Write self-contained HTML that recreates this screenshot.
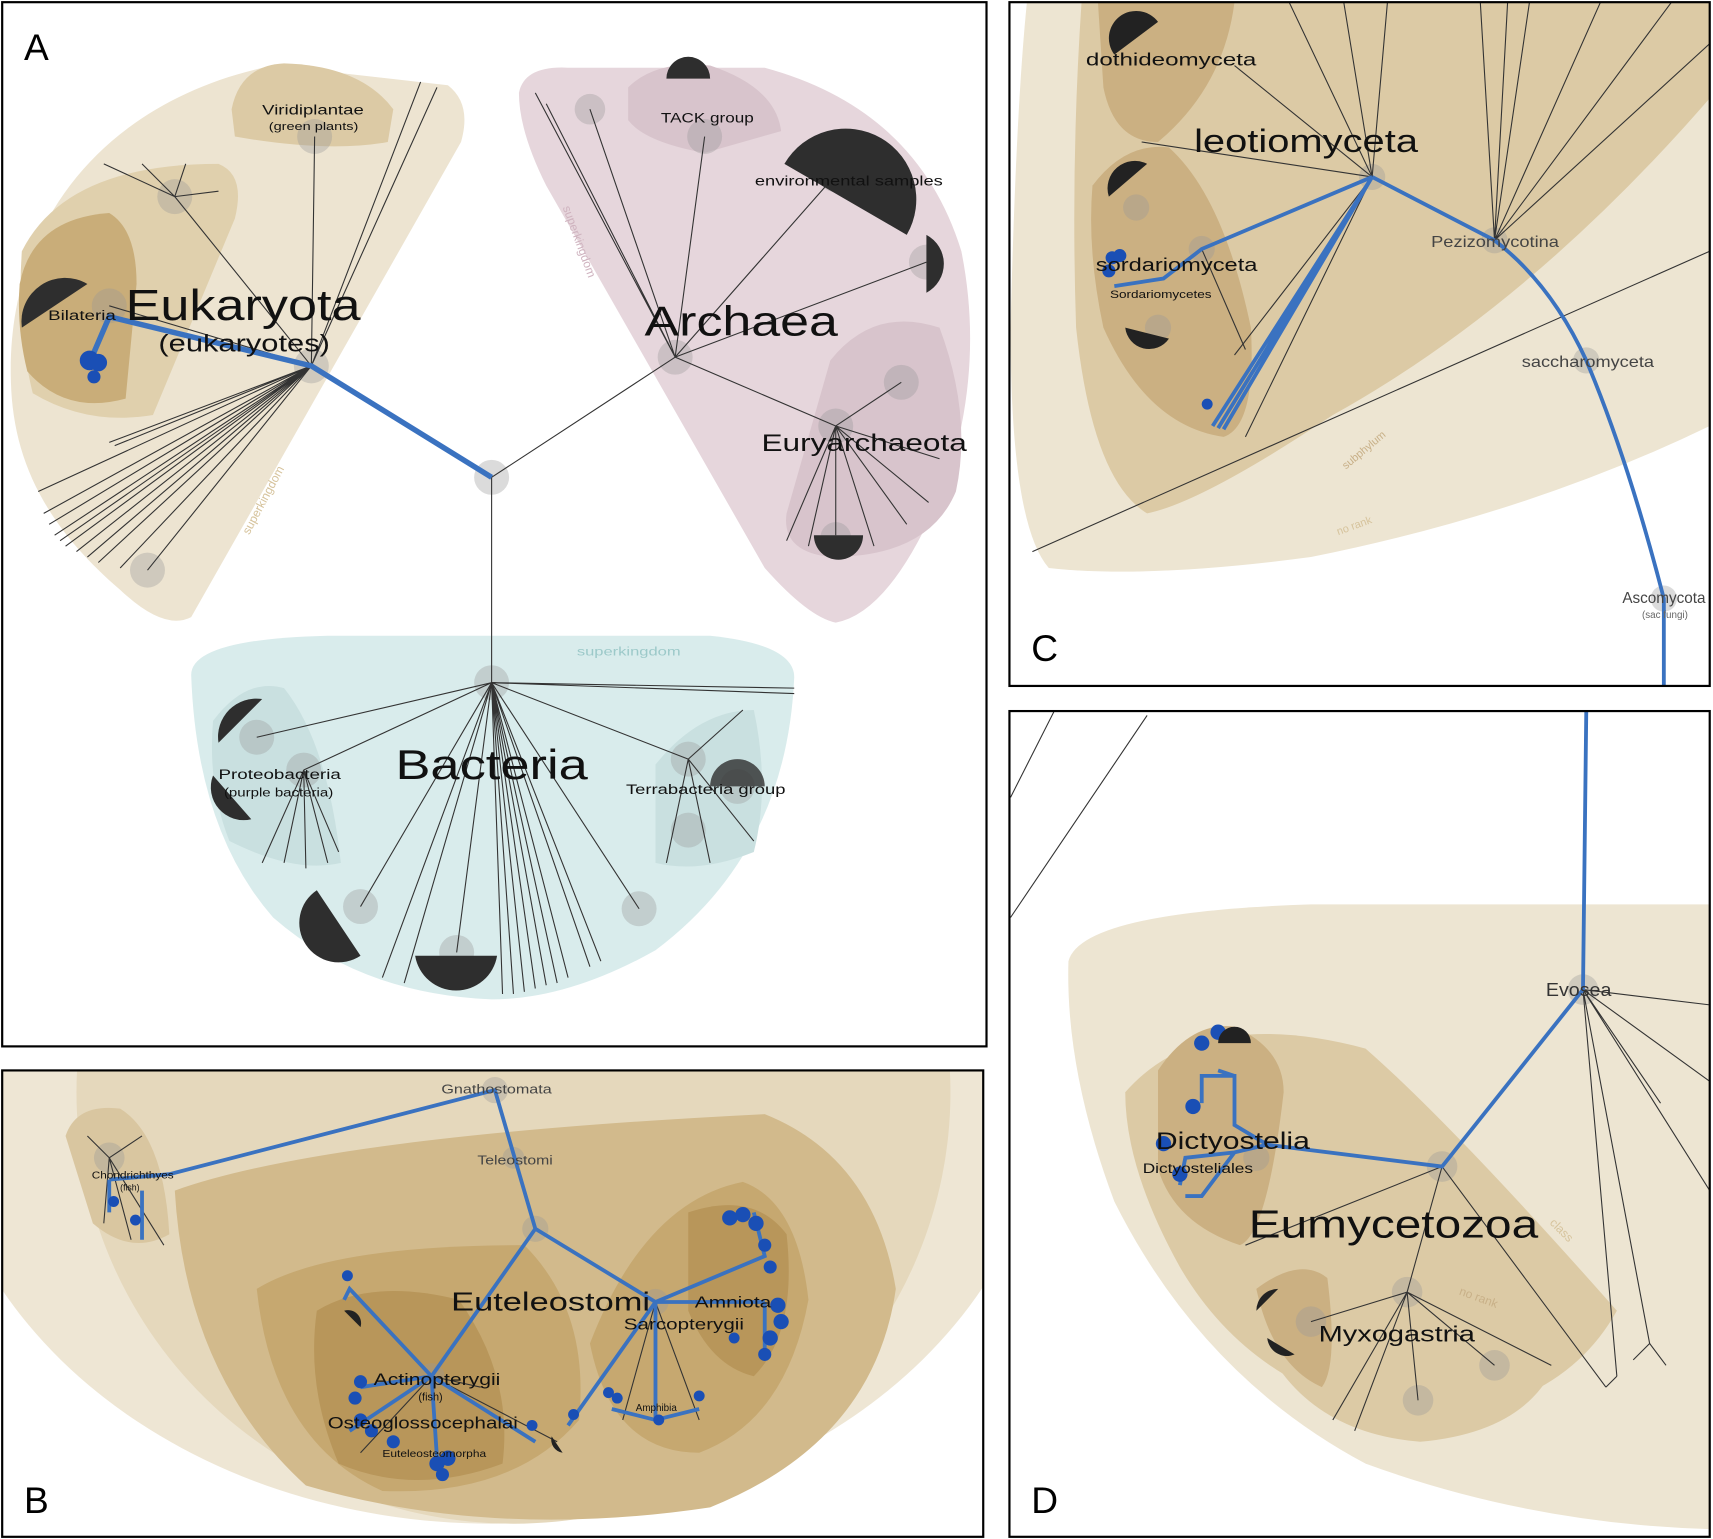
<!DOCTYPE html>
<html><head><meta charset="utf-8"><style>
html,body{margin:0;padding:0;background:#fff;}
svg{display:block;}
text{font-family:"Liberation Sans",sans-serif;}
</style></head><body>
<svg width="1713" height="1539" viewBox="0 0 1568 1409" preserveAspectRatio="none" xmlns="http://www.w3.org/2000/svg">
<defs>
<clipPath id="cA"><rect x="2" y="2" width="901" height="956"/></clipPath>
<clipPath id="cB"><rect x="2" y="980" width="898" height="427"/></clipPath>
<clipPath id="cC"><rect x="924" y="2" width="641" height="626"/></clipPath>
<clipPath id="cD"><rect x="924" y="651" width="641" height="756"/></clipPath>
</defs>
<rect width="1568" height="1409" fill="#fff"/>

<!-- PANEL A -->
<g clip-path="url(#cA)">
<path d="M10,350 C5,200 100,90 250,60 L410,78 Q432,95 422,130 L175,565 Q150,578 110,540 C40,480 12,420 10,350Z" fill="#ede4d1"/>
<path d="M20,230 Q60,150 200,150 Q225,160 215,200 L140,380 Q80,390 30,360 Q15,300 20,230Z" fill="#e0d0ad"/>
<path d="M18,260 Q30,200 100,195 Q125,210 125,260 L115,365 Q60,380 25,340 Q15,300 18,260Z" fill="#c9ad79"/>
<path d="M212,100 Q220,60 260,58 Q330,60 360,100 L355,130 Q300,140 215,125Z" fill="#dccaa5"/>
<path d="M475,85 Q480,60 520,62 L700,62 Q840,100 880,230 Q900,330 870,430 Q820,560 765,570 Q740,565 700,520 L500,170 Q475,120 475,85Z" fill="#e6d6dc"/>
<path d="M760,330 Q800,280 860,300 Q890,380 875,450 Q850,510 760,510 Q715,505 720,470 Z" fill="#d8c4cc"/>
<path d="M575,80 Q600,55 650,60 Q710,80 715,120 L645,140 Q590,130 575,110Z" fill="#d8c4cc"/>
<path d="M175,618 Q175,585 300,582 L650,582 Q727,590 727,620 Q720,780 600,870 Q520,915 450,915 Q330,910 250,840 Q180,760 175,618Z" fill="#d9ecec"/>
<path d="M195,660 Q225,620 260,630 Q300,680 312,790 Q270,800 210,770 Q190,720 195,660Z" fill="#c9e0e0"/>
<path d="M600,700 Q640,650 690,650 Q705,720 690,780 Q640,800 600,790Z" fill="#c9e0e0"/>
<g fill="#999" opacity="0.35">
<circle cx="450" cy="437" r="16"/><circle cx="285" cy="335" r="16"/><circle cx="618" cy="327" r="16"/><circle cx="450" cy="625" r="16"/>
<circle cx="160" cy="180" r="16"/><circle cx="288" cy="125" r="16"/><circle cx="100" cy="280" r="16"/><circle cx="135" cy="522" r="16"/>
<circle cx="765" cy="160" r="16"/><circle cx="848" cy="240" r="16"/><circle cx="645" cy="125" r="16"/><circle cx="765" cy="390" r="16"/><circle cx="825" cy="350" r="16"/><circle cx="540" cy="100" r="14"/>
<circle cx="235" cy="675" r="16"/><circle cx="278" cy="705" r="16"/><circle cx="630" cy="695" r="16"/><circle cx="675" cy="720" r="16"/><circle cx="630" cy="760" r="16"/>
<circle cx="330" cy="830" r="16"/><circle cx="418" cy="872" r="16"/><circle cx="585" cy="832" r="16"/><circle cx="765" cy="492" r="14"/>
</g>
<g stroke="#333" stroke-width="1" fill="none">
<path d="M450,437 L618,327 M450,437 L450,625"/>
<path d="M618,327 L765,160 M618,327 L848,240 M618,327 L645,125 M618,327 L490,85 M618,327 L500,95 M618,327 L765,390 M618,327 L540,100"/>
<path d="M765,390 L825,350 M765,390 L720,495 M765,390 L740,500 M765,390 L765,490 M765,390 L800,500 M765,390 L830,480 M765,390 L850,460 M765,390 L860,420"/>
<path d="M285,335 L288,125 M285,335 L160,180 M285,335 L100,280 M285,335 L385,75 M285,335 L400,80 M285,335 L100,405 M285,335 L105,408 M285,335 L135,522"/>
<path d="M285,335 L35,450 M285,335 L40,470 M285,335 L45,480 M285,335 L50,490 M285,335 L55,495 M285,335 L60,500 M285,335 L70,505 M285,335 L80,510 M285,335 L90,515 M285,335 L110,520"/>
<path d="M160,180 L95,150 M160,180 L200,175 M160,180 L130,150 M160,180 L170,150"/>
<path d="M450,625 L235,675 M450,625 L278,705 M450,625 L630,695 M450,625 L727,630 M450,625 L727,635 M450,625 L330,830 M450,625 L418,872 M450,625 L585,832"/>
<path d="M450,625 L350,895 M450,625 L370,900 M450,625 L460,910 M450,625 L470,910 M450,625 L480,908 M450,625 L490,905 M450,625 L500,902 M450,625 L510,900 M450,625 L520,895 M450,625 L540,885 M450,625 L550,880"/>
<path d="M278,705 L240,790 M278,705 L260,790 M278,705 L280,795 M278,705 L300,790 M278,705 L310,780 M630,695 L690,770 M630,695 L680,650 M630,695 L610,790 M630,695 L650,790"/>
</g>
<g fill="#2e2e2e">
<path d="M718,150 A60,60 0 0 1 830,215 Z"/>
<path d="M848,215 A30,30 0 0 1 848,268 Z"/>
<path d="M745,490 A22,22 0 0 0 790,490 Z"/>
<path d="M380,875 A38,38 0 0 0 455,875 Z"/>
<path d="M290,815 A35,35 0 0 0 330,875 Z"/>
<path d="M610,72 A18,18 0 0 1 650,72 Z"/>
<path d="M20,300 A40,40 0 0 1 80,260 Z"/>
<path d="M200,680 A35,35 0 0 1 240,640 Z"/>
<path d="M195,710 A30,30 0 0 0 230,750 Z"/>
<path d="M650,720 A25,25 0 0 1 700,720 Z" opacity="0.8"/>
</g>
<path d="M450,437 L285,335 L100,290 L85,325" stroke="#3a72c0" stroke-width="5" fill="none"/>
<g fill="#1a4fb5"><circle cx="82" cy="330" r="9"/><circle cx="90" cy="332" r="8"/><circle cx="86" cy="345" r="6"/></g>
<g fill="#111">
<text x="115" y="293" font-size="40" textLength="215" lengthAdjust="spacingAndGlyphs">Eukaryota</text>
<text x="145" y="322" font-size="22" textLength="157" lengthAdjust="spacingAndGlyphs">(eukaryotes)</text>
<text x="590" y="307" font-size="38" textLength="177" lengthAdjust="spacingAndGlyphs">Archaea</text>
<text x="362" y="713" font-size="38" textLength="176" lengthAdjust="spacingAndGlyphs">Bacteria</text>
<text x="697" y="413" font-size="22" textLength="188" lengthAdjust="spacingAndGlyphs">Euryarchaeota</text>
<text x="44" y="293" font-size="13" textLength="62" lengthAdjust="spacingAndGlyphs">Bilateria</text>
<text x="240" y="105" font-size="13" textLength="93" lengthAdjust="spacingAndGlyphs">Viridiplantae</text>
<text x="246" y="119" font-size="10" textLength="82" lengthAdjust="spacingAndGlyphs">(green plants)</text>
<text x="605" y="112" font-size="13" textLength="85" lengthAdjust="spacingAndGlyphs">TACK group</text>
<text x="691" y="170" font-size="13" textLength="172" lengthAdjust="spacingAndGlyphs">environmental samples</text>
<text x="200" y="713" font-size="13" textLength="112" lengthAdjust="spacingAndGlyphs">Proteobacteria</text>
<text x="205" y="729" font-size="11" textLength="100" lengthAdjust="spacingAndGlyphs">(purple bacteria)</text>
<text x="573" y="727" font-size="13" textLength="146" lengthAdjust="spacingAndGlyphs">Terrabacteria group</text>
</g>
<text x="528" y="600" font-size="11" fill="#9cc9c9" textLength="95" lengthAdjust="spacingAndGlyphs">superkingdom</text>
<text x="228" y="490" font-size="11" fill="#d6c39c" transform="rotate(-62 228 490)">superkingdom</text>
<text x="515" y="190" font-size="11" fill="#cfb3bf" transform="rotate(70 515 190)">superkingdom</text>
<text x="22" y="55" font-size="34" fill="#000">A</text>
</g>
<rect x="2" y="2" width="901" height="956" fill="none" stroke="#000" stroke-width="2"/>

<!-- PANEL B -->
<g clip-path="url(#cB)">
<ellipse cx="450" cy="985" rx="510" ry="410" fill="#eee6d4"/>
<ellipse cx="470" cy="1000" rx="400" ry="395" fill="#e5d8bc"/>
<path d="M60,1040 Q70,1010 110,1015 Q150,1040 155,1130 Q120,1150 85,1120Z" fill="#d9c6a0"/>
<path d="M160,1090 Q300,1040 700,1020 Q800,1060 820,1180 Q800,1320 650,1380 Q450,1410 280,1360 Q170,1260 160,1090Z" fill="#d2ba8c"/>
<path d="M235,1180 Q300,1140 480,1140 Q540,1200 530,1300 Q470,1370 350,1365 Q250,1320 235,1180Z" fill="#c6a870"/>
<path d="M290,1200 Q340,1170 420,1190 Q470,1260 460,1340 Q380,1370 310,1340 Q280,1270 290,1200Z" fill="#b8965a"/>
<path d="M540,1230 Q590,1100 680,1082 Q730,1100 740,1190 Q720,1300 640,1330 Q560,1330 540,1230Z" fill="#c6a870"/>
<path d="M630,1110 Q690,1090 720,1130 Q730,1220 690,1260 Q650,1250 630,1200Z" fill="#b8965a"/>
<g fill="#999" opacity="0.35"><circle cx="453" cy="998" r="12"/><circle cx="490" cy="1125" r="12"/><circle cx="600" cy="1192" r="12"/><circle cx="395" cy="1260" r="12"/><circle cx="100" cy="1060" r="14"/><circle cx="470" cy="1060" r="10"/></g>
<g stroke="#333" stroke-width="1" fill="none">
<path d="M100,1060 L80,1040 M100,1060 L130,1040 M100,1060 L95,1120 M100,1060 L150,1140 M100,1060 L120,1135"/>
<path d="M395,1260 L330,1330 M395,1260 L440,1270 M395,1260 L510,1320 M600,1192 L640,1300 M600,1192 L570,1300"/>
</g>
<g stroke="#3a72c0" stroke-width="3.5" fill="none">
<path d="M100,1080 L155,1075 L453,998 L490,1125 L600,1192 L700,1192"/>
<path d="M490,1125 L395,1260 L320,1310 M395,1260 L330,1270 M395,1260 L400,1335 M395,1260 L320,1180 L315,1190 M395,1260 L490,1320"/>
<path d="M600,1192 L520,1305 M600,1192 L600,1300 L560,1290 M600,1300 L640,1290 M600,1192 L700,1150 L690,1110 M700,1192 L700,1240"/>
<path d="M100,1080 L100,1110 M130,1090 L130,1135"/>
</g>
<g fill="#1a4fb5">
<circle cx="318" cy="1168" r="5"/><circle cx="487" cy="1305" r="5"/><circle cx="525" cy="1295" r="5"/><circle cx="557" cy="1275" r="5"/><circle cx="565" cy="1280" r="5"/><circle cx="640" cy="1278" r="5"/><circle cx="603" cy="1300" r="5"/><circle cx="104" cy="1100" r="5"/><circle cx="124" cy="1117" r="5"/>
<circle cx="330" cy="1265" r="6"/><circle cx="325" cy="1280" r="6"/><circle cx="330" cy="1300" r="6"/><circle cx="340" cy="1310" r="6"/><circle cx="360" cy="1320" r="6"/><circle cx="400" cy="1340" r="7"/><circle cx="410" cy="1335" r="7"/><circle cx="405" cy="1350" r="6"/>
<circle cx="668" cy="1115" r="7"/><circle cx="680" cy="1112" r="7"/><circle cx="692" cy="1120" r="7"/><circle cx="700" cy="1140" r="6"/><circle cx="705" cy="1160" r="6"/><circle cx="712" cy="1195" r="7"/><circle cx="715" cy="1210" r="7"/><circle cx="705" cy="1225" r="7"/><circle cx="700" cy="1240" r="6"/><circle cx="672" cy="1225" r="5"/>
</g>
<path d="M505,1315 A12,12 0 0 0 515,1330 Z M315,1200 A12,12 0 0 1 330,1215Z" fill="#222"/>
<g fill="#111">
<text x="404" y="1001" font-size="12" fill="#444" textLength="101" lengthAdjust="spacingAndGlyphs">Gnathostomata</text>
<text x="437" y="1066" font-size="12" fill="#444" textLength="69" lengthAdjust="spacingAndGlyphs">Teleostomi</text>
<text x="413" y="1200" font-size="24" textLength="182" lengthAdjust="spacingAndGlyphs">Euteleostomi</text>
<text x="636" y="1197" font-size="14" textLength="70" lengthAdjust="spacingAndGlyphs">Amniota</text>
<text x="571" y="1217" font-size="14" textLength="110" lengthAdjust="spacingAndGlyphs">Sarcopterygii</text>
<text x="342" y="1268" font-size="15" textLength="116" lengthAdjust="spacingAndGlyphs">Actinopterygii</text>
<text x="383" y="1282" font-size="10">(fish)</text>
<text x="300" y="1308" font-size="15" textLength="174" lengthAdjust="spacingAndGlyphs">Osteoglossocephalai</text>
<text x="350" y="1334" font-size="9" textLength="95" lengthAdjust="spacingAndGlyphs">Euteleosteomorpha</text>
<text x="582" y="1292" font-size="9">Amphibia</text>
<text x="84" y="1079" font-size="9" textLength="75" lengthAdjust="spacingAndGlyphs">Chondrichthyes</text>
<text x="110" y="1090" font-size="8">(fish)</text>
</g>
<text x="22" y="1385" font-size="34" fill="#000">B</text>
</g>
<rect x="2" y="980" width="898" height="427" fill="none" stroke="#000" stroke-width="2"/>

<!-- PANEL C -->
<g clip-path="url(#cC)">
<path d="M940,2 L1565,2 L1565,390 Q1400,470 1200,510 Q1050,530 960,520 Q925,480 925,300 Q930,100 940,2Z" fill="#ede5d2"/>
<path d="M990,2 L1565,2 L1565,90 Q1400,280 1220,380 Q1100,460 1050,470 Q1000,440 985,300 Q980,150 990,2Z" fill="#dccaa5"/>
<path d="M1005,2 L1130,2 Q1120,80 1060,130 Q1020,130 1010,80Z" fill="#cbb082"/>
<path d="M1000,170 Q1030,130 1070,135 Q1120,180 1145,300 Q1150,390 1120,400 Q1050,390 1010,300 Q995,230 1000,170Z" fill="#cbb082"/>
<g fill="#999" opacity="0.35"><circle cx="1256" cy="162" r="12"/><circle cx="1100" cy="228" r="12"/><circle cx="1368" cy="220" r="12"/><circle cx="1452" cy="330" r="12"/><circle cx="1523" cy="548" r="12"/><circle cx="1040" cy="190" r="12"/><circle cx="1060" cy="300" r="12"/></g>
<g stroke="#333" stroke-width="1" fill="none">
<path d="M1256,162 L1130,60 M1256,162 L1180,2 M1256,162 L1230,2 M1256,162 L1270,2 M1256,162 L1045,130 M1256,162 L1130,325 M1256,162 L1140,400"/>
<path d="M1368,220 L1380,2 M1368,220 L1400,2 M1368,220 L1465,2 M1368,220 L1530,2 M1368,220 L1565,40 M1368,220 L1355,2"/>
<path d="M945,505 L1565,230 M1100,228 L1140,320"/>
</g>
<g stroke="#3a72c0" stroke-width="3.5" fill="none">
<path d="M1256,162 L1100,228 L1065,255 L1020,262 M1256,162 L1110,390 M1256,162 L1115,392 M1256,162 L1120,393"/>
<path d="M1256,162 L1368,220 Q1420,260 1452,330 Q1490,420 1523,548 L1523,628"/>
</g>
<g fill="#1a4fb5"><circle cx="1018" cy="236" r="6"/><circle cx="1025" cy="234" r="6"/><circle cx="1015" cy="248" r="6"/><circle cx="1105" cy="370" r="5"/></g>
<g fill="#222"><path d="M1020,50 A25,25 0 0 1 1060,20Z M1015,180 A25,25 0 0 1 1050,150Z M1030,300 A22,22 0 0 0 1070,310Z"/></g>
<g fill="#111">
<text x="994" y="60" font-size="16" textLength="156" lengthAdjust="spacingAndGlyphs">dothideomyceta</text>
<text x="1093" y="139" font-size="30" textLength="205" lengthAdjust="spacingAndGlyphs">leotiomyceta</text>
<text x="1003" y="248" font-size="17" textLength="148" lengthAdjust="spacingAndGlyphs">sordariomyceta</text>
<text x="1016" y="273" font-size="10" textLength="93" lengthAdjust="spacingAndGlyphs">Sordariomycetes</text>
<text x="1310" y="226" font-size="14" fill="#444" textLength="117" lengthAdjust="spacingAndGlyphs">Pezizomycotina</text>
<text x="1393" y="336" font-size="14" fill="#444" textLength="121" lengthAdjust="spacingAndGlyphs">saccharomyceta</text>
<text x="1485" y="552" font-size="14" fill="#444">Ascomycota</text>
<text x="1503" y="566" font-size="9" fill="#666">(sac fungi)</text>
</g>
<text x="1225" y="490" font-size="10" fill="#d6c39c" transform="rotate(-20 1225 490)">no rank</text>
<text x="1232" y="430" font-size="10" fill="#c8b088" transform="rotate(-40 1232 430)">subphylum</text>
<text x="944" y="605" font-size="34" fill="#000">C</text>
</g>
<rect x="924" y="2" width="641" height="626" fill="none" stroke="#000" stroke-width="2"/>

<!-- PANEL D -->
<g clip-path="url(#cD)">
<path d="M978,880 Q990,835 1200,828 L1565,828 L1565,1400 Q1400,1395 1250,1340 Q1100,1260 1020,1100 Q975,980 978,880Z" fill="#ede5d2"/>
<path d="M1030,1000 Q1100,920 1250,960 Q1330,1030 1480,1200 Q1430,1290 1300,1300 Q1150,1280 1080,1160 Q1030,1070 1030,1000Z" fill="#dccaa5"/>
<path d="M1060,980 Q1090,935 1130,940 Q1175,960 1175,1000 Q1160,1130 1135,1140 Q1075,1120 1060,1070Z" fill="#cbb082"/>
<path d="M1145,1200 Q1160,1150 1250,1140 Q1380,1160 1430,1230 Q1410,1310 1300,1320 Q1180,1310 1145,1200Z" fill="#dccaa5"/>
<path d="M1150,1180 Q1190,1150 1215,1170 Q1225,1250 1210,1270 Q1165,1250 1150,1180Z" fill="#cbb082"/>
<g fill="#999" opacity="0.35"><circle cx="1449" cy="906" r="14"/><circle cx="1320" cy="1068" r="14"/><circle cx="1288" cy="1183" r="14"/><circle cx="1200" cy="1210" r="14"/><circle cx="1298" cy="1282" r="14"/><circle cx="1368" cy="1250" r="14"/><circle cx="1150" cy="1060" r="12"/></g>
<g stroke="#333" stroke-width="1" fill="none">
<path d="M925,730 L965,651 M925,840 L1050,655"/>
<path d="M1449,906 L1565,920 M1449,906 L1565,990 M1449,906 L1520,1010 M1449,906 L1565,1090 M1449,906 L1510,1230 M1449,906 L1480,1260"/>
<path d="M1320,1068 L1288,1183 L1200,1210 M1288,1183 L1220,1300 M1288,1183 L1240,1310 M1288,1183 L1298,1282 M1288,1183 L1368,1250 M1288,1183 L1420,1250 M1320,1068 L1470,1270 M1320,1068 L1140,1140"/>
<path d="M1510,1230 L1495,1245 M1510,1230 L1525,1250 M1480,1260 L1470,1270"/>
</g>
<g stroke="#3a72c0" stroke-width="3.5" fill="none">
<path d="M1452,651 L1449,906 L1320,1068 L1160,1048 L1130,1055 L1085,1060 L1080,1085 M1160,1048 L1130,1030 L1130,985 L1100,985 L1100,1010 M1130,985 L1115,980 M1130,1055 L1100,1095 L1085,1095"/>
</g>
<g fill="#1a4fb5"><circle cx="1100" cy="955" r="7"/><circle cx="1115" cy="945" r="7"/><circle cx="1092" cy="1013" r="7"/><circle cx="1065" cy="1047" r="7"/><circle cx="1080" cy="1075" r="7"/></g>
<g fill="#222"><path d="M1150,1200 A20,20 0 0 1 1170,1180Z M1160,1225 A18,18 0 0 0 1185,1240Z M1115,955 A15,15 0 0 1 1145,955Z"/></g>
<g fill="#111">
<text x="1415" y="912" font-size="17" fill="#333" textLength="60" lengthAdjust="spacingAndGlyphs">Evosea</text>
<text x="1058" y="1052" font-size="22" textLength="141" lengthAdjust="spacingAndGlyphs">Dictyostelia</text>
<text x="1046" y="1074" font-size="13" textLength="101" lengthAdjust="spacingAndGlyphs">Dictyosteliales</text>
<text x="1143" y="1133" font-size="36" textLength="265" lengthAdjust="spacingAndGlyphs">Eumycetozoa</text>
<text x="1207" y="1228" font-size="20" textLength="143" lengthAdjust="spacingAndGlyphs">Myxogastria</text>
</g>
<text x="1335" y="1185" font-size="11" fill="#c8b088" transform="rotate(20 1335 1185)">no rank</text>
<text x="1418" y="1120" font-size="11" fill="#d6c39c" transform="rotate(45 1418 1120)">class</text>
<text x="944" y="1385" font-size="34" fill="#000">D</text>
</g>
<rect x="924" y="651" width="641" height="756" fill="none" stroke="#000" stroke-width="2"/>
</svg>
</body></html>
